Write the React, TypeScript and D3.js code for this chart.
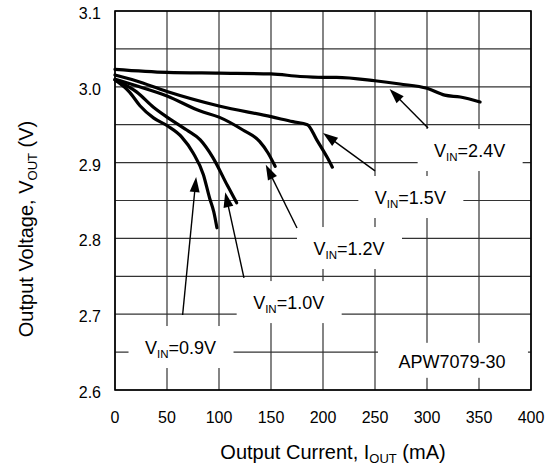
import React from "react";
import * as d3 from "d3";

const W = 555, H = 467;
const xTicks = [0, 50, 100, 150, 200, 250, 300, 350, 400];
const yTicks = [2.6, 2.7, 2.8, 2.9, 3.0, 3.1];
const yGrid = [2.6, 2.65, 2.7, 2.75, 2.8, 2.85, 2.9, 2.95, 3.0, 3.05, 3.1];

const vin24: [number, number][] = [[0,3.023],[50,3.019],[100,3.018],[150,3.017],[178,3.0136],[200,3.0125],[213,3.0125],[250,3.008],[274,3.0037],[300,2.998],[317,2.989],[332,2.9865],[351,2.980]];
const vin15: [number, number][] = [[0,3.0156],[20,3.008],[50,2.9938],[100,2.9747],[150,2.9606],[171,2.954],[185,2.950],[194,2.930],[204,2.907],[209,2.894]];
const vin12: [number, number][] = [[0,3.010],[19,3.002],[50,2.988],[82,2.968],[100,2.960],[123,2.943],[139,2.928],[147,2.913],[154,2.895]];
const vin10: [number, number][] = [[0,3.009],[21,2.993],[37,2.973],[50,2.960],[69,2.943],[82,2.930],[94,2.907],[108,2.870],[117,2.847]];
const vin09: [number, number][] = [[0,3.009],[14,2.993],[24,2.975],[37,2.959],[51,2.948],[64,2.934],[75,2.913],[85,2.884],[91,2.853],[95,2.835],[98,2.814]];
const series = [vin24, vin15, vin12, vin10, vin09];

const labelNames = ["2.4V", "1.5V", "1.2V", "1.0V", "0.9V"];
const labelPos: [number, number][] = [[341, 2.9166], [284, 2.8546], [225, 2.7873], [167, 2.716], [63, 2.6567]];
const arrowTail: [number, number][] = [[301, 2.9457], [250, 2.889], [175, 2.8137], [124, 2.748], [65, 2.699]];
const arrowTip: [number, number][] = [[264, 2.997], [200, 2.939], [145, 2.897], [106, 2.861], [78, 2.881]];
const partName = "APW7079-30";
const partPos: [number, number] = [324, 2.6385];

export default function App() {
  const x = d3.scaleLinear().domain([0, 400]).range([115, 531]);
  const y = d3.scaleLinear().domain([2.6, 3.1]).range([390, 11]);
  const line = d3.line<[number, number]>().x(d => x(d[0])).y(d => y(d[1])).curve(d3.curveMonotoneX);
  const font = "Liberation Sans, Arial, sans-serif";

  const arrowHead = (tx: number, ty: number, fx: number, fy: number) => {
    const ang = Math.atan2(ty - fy, tx - fx);
    const L = 15, Wd = 5;
    const bx = tx - L * Math.cos(ang), by = ty - L * Math.sin(ang);
    const px = -Math.sin(ang) * Wd, py = Math.cos(ang) * Wd;
    return `M${tx},${ty}L${bx + px},${by + py}L${bx - px},${by - py}Z`;
  };

  return (
    <svg width={W} height={H} style={{ position: "absolute", left: 0, top: 0, background: "#fff" }} fontFamily={font}>
      <rect x={0} y={0} width={W} height={H} fill="#fff" />
      {xTicks.map(t => (
        <line key={"vx" + t} x1={x(t)} x2={x(t)} y1={y(3.1)} y2={y(2.6)} stroke="#333" strokeWidth={1.2} />
      ))}
      {yGrid.map(t => (
        <line key={"hy" + t} x1={x(0)} x2={x(400)} y1={y(t)} y2={y(t)} stroke="#333" strokeWidth={1.2} />
      ))}
      {labelNames.map((n, i) => (
        <rect key={"b" + n} x={x(labelPos[i][0]) - 52} y={y(labelPos[i][1]) - 21} width={105} height={42} fill="#fff" />
      ))}
      <rect x={x(partPos[0]) - 74} y={y(partPos[1]) - 18} width={150} height={35} fill="#fff" />
      {series.map((s, i) => (
        <path key={"s" + i} d={line(s) || ""} fill="none" stroke="#000" strokeWidth={3.2} strokeLinejoin="round" strokeLinecap="round" />
      ))}
      {labelNames.map((n, i) => {
        const fx = x(arrowTail[i][0]), fy = y(arrowTail[i][1]);
        const tx = x(arrowTip[i][0]), ty = y(arrowTip[i][1]);
        const ang = Math.atan2(ty - fy, tx - fx);
        return (
          <g key={"a" + n}>
            <line x1={fx} y1={fy} x2={tx - 10 * Math.cos(ang)} y2={ty - 10 * Math.sin(ang)} stroke="#000" strokeWidth={1.4} />
            <path d={arrowHead(tx, ty, fx, fy)} fill="#000" />
          </g>
        );
      })}
      {labelNames.map((n, i) => (
        <text key={"t" + n} x={x(labelPos[i][0])} y={y(labelPos[i][1]) + 7} textAnchor="middle" fontSize={18}>
          <tspan>V</tspan>
          <tspan fontSize={11.5} dy={4}>IN</tspan>
          <tspan dy={-4}>{"=" + n}</tspan>
        </text>
      ))}
      <text x={x(partPos[0])} y={y(partPos[1]) + 7} textAnchor="middle" fontSize={18}>{partName}</text>
      <rect x={x(0)} y={y(3.1)} width={x(400) - x(0)} height={y(2.6) - y(3.1)} fill="none" stroke="#000" strokeWidth={1.6} />
      {yTicks.map(t => (
        <text key={"yt" + t} x={101} y={y(t) + 8} textAnchor="end" fontSize={16}>{t.toFixed(1)}</text>
      ))}
      {xTicks.map(t => (
        <text key={"xt" + t} x={x(t)} y={423} textAnchor="middle" fontSize={16}>{t}</text>
      ))}
      <text x={333} y={459} textAnchor="middle" fontSize={20}>
        <tspan>Output Current, I</tspan>
        <tspan fontSize={13} dy={4}>OUT</tspan>
        <tspan dy={-4}> (mA)</tspan>
      </text>
      <text transform={`translate(33,229) rotate(-90)`} textAnchor="middle" fontSize={20}>
        <tspan>Output Voltage, V</tspan>
        <tspan fontSize={13} dy={4}>OUT</tspan>
        <tspan dy={-4}> (V)</tspan>
      </text>
    </svg>
  );
}
